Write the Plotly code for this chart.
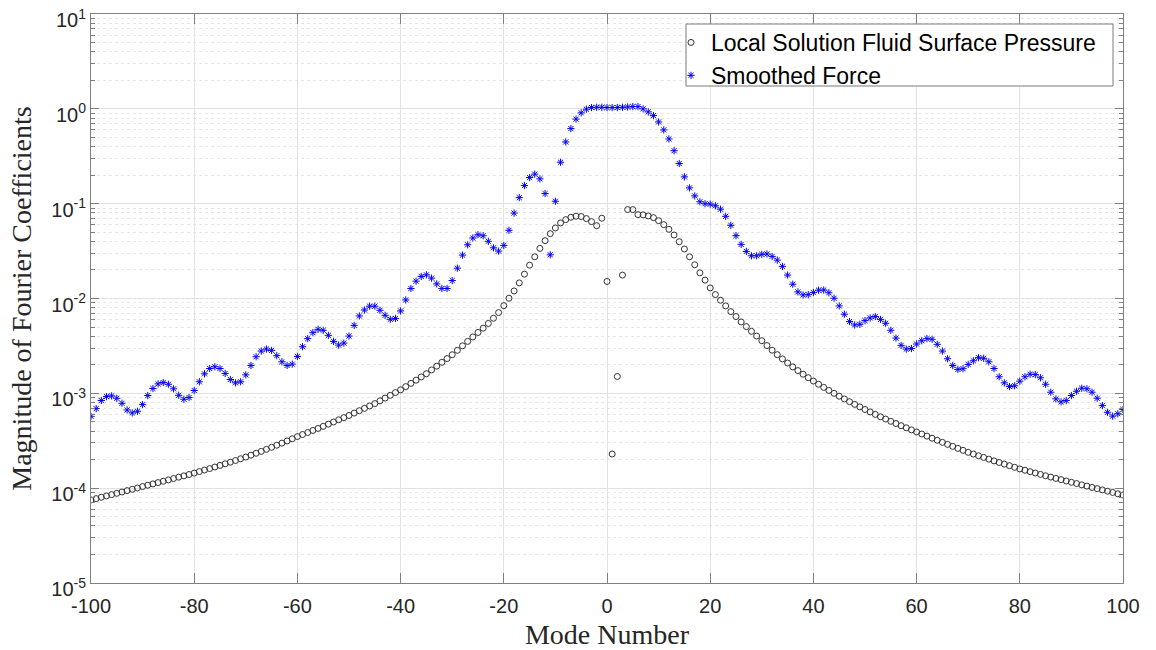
import plotly.graph_objects as go

# Mode numbers (x)
modes = list(range(-100, 101))

# log10 of |Fourier coefficient|, modes -100 .. 100
pressure_log10 = [
    -4.124, -4.110, -4.096, -4.082, -4.068, -4.054, -4.040, -4.026, -4.012, -3.998,
    -3.983, -3.969, -3.955, -3.941, -3.927, -3.913, -3.898, -3.884, -3.870, -3.856,
    -3.841, -3.825, -3.809, -3.793, -3.777, -3.760, -3.743, -3.726, -3.708, -3.690,
    -3.672, -3.652, -3.632, -3.612, -3.591, -3.569, -3.547, -3.525, -3.502, -3.479,
    -3.456, -3.434, -3.413, -3.391, -3.370, -3.348, -3.325, -3.302, -3.279, -3.256,
    -3.233, -3.208, -3.183, -3.158, -3.133, -3.108, -3.079, -3.050, -3.021, -2.992,
    -2.963, -2.929, -2.895, -2.861, -2.827, -2.793, -2.753, -2.713, -2.673, -2.633,
    -2.593, -2.546, -2.499, -2.452, -2.405, -2.358, -2.313, -2.263, -2.208, -2.148,
    -2.075, -1.997, -1.920, -1.835, -1.743, -1.648, -1.560, -1.471, -1.390, -1.316,
    -1.256, -1.203, -1.168, -1.143, -1.132, -1.135, -1.157, -1.189, -1.232, -1.153,
    -1.820,
    -3.640, -2.822, -1.753, -1.062, -1.062, -1.115, -1.118, -1.129, -1.147, -1.179,
    -1.221, -1.270, -1.330, -1.401, -1.478, -1.560, -1.644, -1.729, -1.806, -1.888,
    -1.958, -2.018, -2.078, -2.138, -2.190, -2.247, -2.296, -2.346, -2.396, -2.445,
    -2.496, -2.545, -2.592, -2.637, -2.680, -2.721, -2.760, -2.798, -2.835, -2.870,
    -2.904, -2.937, -2.969, -3.000, -3.030, -3.059, -3.088, -3.116, -3.143, -3.170,
    -3.196, -3.222, -3.247, -3.271, -3.295, -3.318, -3.341, -3.363, -3.385, -3.407,
    -3.429, -3.451, -3.473, -3.495, -3.517, -3.538, -3.559, -3.580, -3.601, -3.622,
    -3.640, -3.658, -3.676, -3.694, -3.712, -3.729, -3.746, -3.763, -3.780, -3.797,
    -3.811, -3.826, -3.840, -3.855, -3.869, -3.883, -3.897, -3.910, -3.924, -3.938,
    -3.951, -3.965, -3.978, -3.992, -4.005, -4.018, -4.032, -4.045, -4.059, -4.072,
]

force_log10 = [
    -3.242, -3.161, -3.076, -3.034, -3.027, -3.052, -3.105, -3.175, -3.206, -3.189,
    -3.119, -3.023, -2.949, -2.900, -2.886, -2.904, -2.952, -3.020, -3.062, -3.044,
    -2.970, -2.878, -2.794, -2.738, -2.720, -2.738, -2.790, -2.854, -2.889, -2.878,
    -2.805, -2.706, -2.614, -2.554, -2.533, -2.547, -2.603, -2.667, -2.706, -2.692,
    -2.611, -2.508, -2.423, -2.360, -2.325, -2.335, -2.388, -2.452, -2.491, -2.470,
    -2.396, -2.283, -2.184, -2.121, -2.081, -2.081, -2.124, -2.177, -2.219, -2.210,
    -2.131, -2.015, -1.894, -1.817, -1.767, -1.750, -1.785, -1.846, -1.894, -1.894,
    -1.810, -1.680, -1.542, -1.433, -1.362, -1.327, -1.338, -1.397, -1.465, -1.500,
    -1.440, -1.281, -1.099, -0.936, -0.809, -0.724, -0.688, -0.738, -0.893, -1.539,
    -0.974, -0.563, -0.349, -0.208, -0.108, -0.042, -0.003, 0.014, 0.017, 0.017,
    0.014,
    0.014, 0.014, 0.017, 0.020, 0.024, 0.024, 0.000, -0.032, -0.071, -0.138,
    -0.222, -0.317, -0.441, -0.576, -0.717, -0.833, -0.918, -0.980, -1.000, -1.005,
    -1.022, -1.058, -1.133, -1.228, -1.337, -1.429, -1.503, -1.549, -1.549, -1.534,
    -1.530, -1.556, -1.595, -1.661, -1.753, -1.849, -1.930, -1.962, -1.959, -1.937,
    -1.912, -1.910, -1.939, -1.997, -2.078, -2.166, -2.243, -2.279, -2.272, -2.233,
    -2.205, -2.190, -2.220, -2.261, -2.335, -2.417, -2.494, -2.533, -2.527, -2.480,
    -2.445, -2.423, -2.430, -2.483, -2.554, -2.635, -2.706, -2.748, -2.740, -2.695,
    -2.656, -2.624, -2.630, -2.667, -2.738, -2.825, -2.889, -2.928, -2.920, -2.872,
    -2.825, -2.798, -2.802, -2.836, -2.904, -2.988, -3.058, -3.090, -3.076, -3.023,
    -2.978, -2.946, -2.952, -2.988, -3.052, -3.129, -3.200, -3.240, -3.215, -3.171,
]

pressure = [10 ** v for v in pressure_log10]
force = [10 ** v for v in force_log10]

x_tickvals = [-100, -80, -60, -40, -20, 0, 20, 40, 60, 80, 100]
x_ticktext = ["-100", "-80", "-60", "-40", "-20", "0", "20", "40", "60", "80", "100"]
y_exponents = [-5, -4, -3, -2, -1, 0, 1]
y_tickvals = [10.0 ** k for k in y_exponents]
y_ticktext = ["10<sup>%d</sup>" % k for k in y_exponents]
y_minorvals = [m * 10.0 ** k for k in range(-5, 1) for m in range(2, 10)]

AX = "#808080"
GRID = "#e2e2e2"
TXT = "#262626"

fig = go.Figure()
fig.add_trace(go.Scatter(
    x=modes, y=pressure, mode="markers",
    name="Local Solution Fluid Surface Pressure",
    marker=dict(symbol="circle-open", size=6, color="#333333", line=dict(width=1, color="#333333")),
))
fig.add_trace(go.Scatter(
    x=modes, y=force, mode="markers",
    name="Smoothed Force",
    marker=dict(symbol="asterisk-open", size=6, color="#0000ff", line=dict(width=1, color="#1a1aff")),
))

W, H = 1156, 650
L, R, T, B = 91, 33, 14, 67
pw, ph = W - L - R, H - T - B

def px_x(p):
    return (p - L) / pw

def px_y(p):
    return (H - B - p) / ph

# legend frame
fig.add_shape(type="rect", xref="paper", yref="paper",
              x0=px_x(686), x1=px_x(1113), y0=px_y(86), y1=px_y(24),
              fillcolor="white", line=dict(color="#7a7a7a", width=1), layer="above")

fig.update_layout(
    width=W, height=H,
    margin=dict(l=L, r=R, t=T, b=B, autoexpand=False),
    paper_bgcolor="white", plot_bgcolor="white",
    font=dict(family="Liberation Sans, Arial, sans-serif", size=20, color=TXT),
    showlegend=True,
    legend=dict(x=px_x(671), y=px_y(21), xanchor="left", yanchor="top",
                bgcolor="rgba(0,0,0,0)", borderwidth=0,
                font=dict(family="Liberation Sans, Arial, sans-serif", size=23, color="#000000"),
                tracegroupgap=0),
    xaxis=dict(
        range=[-100, 100], tickvals=x_tickvals, ticktext=x_ticktext, automargin=False,
        showline=True, linecolor=AX, linewidth=1, mirror="allticks",
        ticks="inside", ticklen=10, tickcolor=AX, tickwidth=1,
        ticklabelstandoff=5,
        showgrid=True, gridcolor=GRID, gridwidth=1, zeroline=False,
        tickfont=dict(size=20, color=TXT),
        title=dict(text="Mode Number", standoff=10,
                   font=dict(family="Liberation Serif, Times New Roman, serif", size=28, color=TXT)),
    ),
    yaxis=dict(
        type="log", range=[-5, 1.0005], tickvals=y_tickvals, ticktext=y_ticktext, automargin=False,
        showline=True, linecolor=AX, linewidth=1, mirror="allticks",
        ticks="inside", ticklen=8, tickcolor=AX, tickwidth=1,
        ticklabelshift=6, ticklabeloverflow="allow",
        showgrid=True, gridcolor=GRID, gridwidth=1, zeroline=False,
        tickfont=dict(size=20, color=TXT),
        minor=dict(tickvals=y_minorvals, ticks="inside", ticklen=4, tickcolor=AX,
                   showgrid=True, gridcolor="#e6e6e6", griddash="dot", gridwidth=1),
        title=dict(text="Magnitude of Fourier Coefficients", standoff=11,
                   font=dict(family="Liberation Serif, Times New Roman, serif", size=28, color=TXT)),
    ),
)

fig.write_html("out.html", config={"displayModeBar": False},
               post_script="document.body.style.margin='0px';")
